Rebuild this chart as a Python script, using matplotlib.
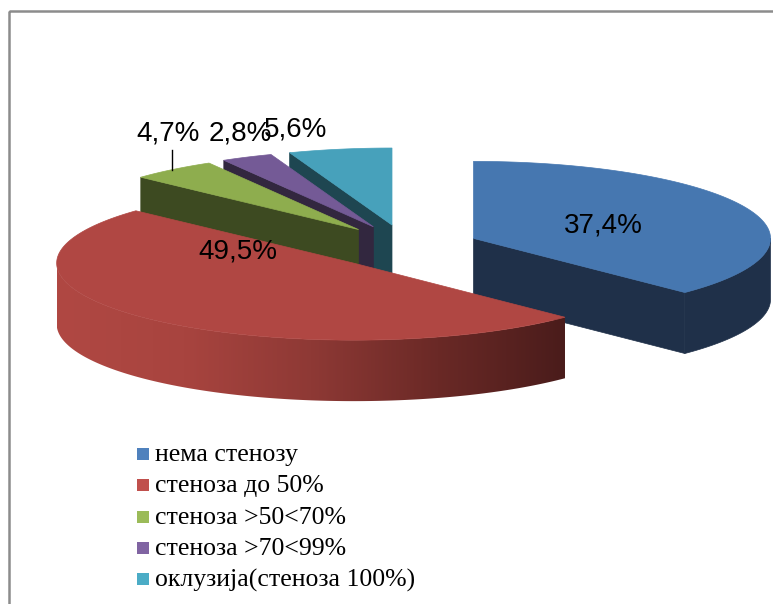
import numpy as np
import matplotlib.pyplot as plt
from matplotlib.patches import Polygon, Rectangle
from matplotlib.colors import LinearSegmentedColormap

# data
labels = ["нема стенозу", "стеноза до 50%", "стеноза >50<70%",
          "стеноза >70<99%", "оклузија(стеноза 100%)"]
values = [37.4, 49.5, 4.7, 2.8, 5.6]
value_texts = ["37,4%", "49,5%", "4,7%", "2,8%", "5,6%"]

# styles
top_colors = ["#4677B0", "#B04743", "#8EAD4E", "#745A96", "#47A1BB"]
side_colors = ["#1F3049", "#4A1C1B", "#3D4A21", "#32273F", "#1E4651"]
legend_colors = ["#4F81BD", "#C0504D", "#9BBB59", "#8064A2", "#4BACC6"]
label_pos = [(603, 226), (238, 252), (168, 133), (240, 133), (296, 130)]

W, H = 773, 604
cx, cy = 405, 247      # pie centre (pixels)
rx, ry = 297, 77       # ellipse radii of the top face
depth = 61             # thickness
ex, ey = 0.25, 0.29    # explosion as fraction of radius

fig = plt.figure(figsize=(W / 100, H / 100), dpi=100)
ax = fig.add_axes([0, 0, 1, 1])
ax.set_xlim(0, W)
ax.set_ylim(H, 0)
ax.axis('off')


def point(theta, r, ox, oy, dz=0):
    t = np.radians(theta)
    return (ox + r * rx * np.sin(t), oy - r * ry * np.cos(t) + dz)


# angles clockwise from 12 o'clock
fracs = np.array(values) / sum(values) * 360
starts = np.concatenate([[0], np.cumsum(fracs)[:-1]])
ends = np.cumsum(fracs)
mids = (starts + ends) / 2

red_grad = LinearSegmentedColormap.from_list(
    "redwall", ["#B04843", "#A8443F", "#8E3935", "#6A2926", "#4A1C1B"])

z = 1.0
# draw back to front
order = np.argsort(-np.cos(np.radians(mids)))
for i in order:
    a0, a1, m = starts[i], ends[i], mids[i]
    t = np.radians(m)
    ox, oy = cx + ex * rx * np.sin(t), cy - ey * ry * np.cos(t)
    arc = np.linspace(a0, a1, 150)
    # radial side faces facing viewer
    for a, visible in [(a0, np.sin(np.radians(a0)) < -1e-6),
                       (a1, np.sin(np.radians(a1)) > 1e-6)]:
        if visible:
            p = point(a, 1, ox, oy)
            poly = [(ox, oy), p, (p[0], p[1] + depth), (ox, oy + depth)]
            ax.add_patch(Polygon(poly, closed=True, fc=side_colors[i],
                                 ec=side_colors[i], lw=0.5, zorder=z))
            z += 0.01
    # outer wall (front half only)
    w0, w1 = max(a0, 90), min(a1, 270)
    if w1 > w0:
        ws = np.linspace(w0, w1, 200)
        upper = [point(a, 1, ox, oy) for a in ws]
        lower = [point(a, 1, ox, oy, depth) for a in ws[::-1]]
        if i == 1:
            wall = Polygon(upper + lower, closed=True, fc='none', ec='none',
                           zorder=z)
            ax.add_patch(wall)
            xs = [p[0] for p in upper]
            ys = [p[1] for p in upper + lower]
            grad = np.linspace(0, 1, 256).reshape(1, -1)
            im = ax.imshow(grad, cmap=red_grad, aspect='auto',
                           extent=[min(xs), max(xs), max(ys) + 1, min(ys) - 1],
                           interpolation='bilinear', zorder=z)
            im.set_clip_path(wall)
            ax.set_xlim(0, W)
            ax.set_ylim(H, 0)
        else:
            ax.add_patch(Polygon(upper + lower, closed=True, fc=side_colors[i],
                                 ec=side_colors[i], lw=0.5, zorder=z))
        z += 0.01
    # top face
    top = [(ox, oy)] + [point(a, 1, ox, oy) for a in arc]
    ax.add_patch(Polygon(top, closed=True, fc=top_colors[i],
                         ec=top_colors[i], lw=0.5, zorder=z))
    z += 0.01

# value labels
for txt, (x, y) in zip(value_texts, label_pos):
    ax.text(x, y, txt, ha='center', va='center', fontsize=20,
            family='Liberation Sans', color='black', zorder=5)
ax.plot([172, 172], [150, 170], color='black', lw=1, zorder=5)

# legend
for k, (lab, col) in enumerate(zip(labels, legend_colors)):
    y = 454 + k * 31.3
    ax.add_patch(Rectangle((137, y - 6), 12, 12, fc=col, ec='none'))
    ax.text(155, y + 1, lab, ha='left', va='center', fontsize=18.5,
            family='Liberation Serif', color='black')

# chart border (only top/left visible)
ax.add_patch(Rectangle((8.5, 10.5), 900, 900, fill=False, ec='#8C8C8C', lw=1.8))

fig.savefig("out.png", dpi=100)
